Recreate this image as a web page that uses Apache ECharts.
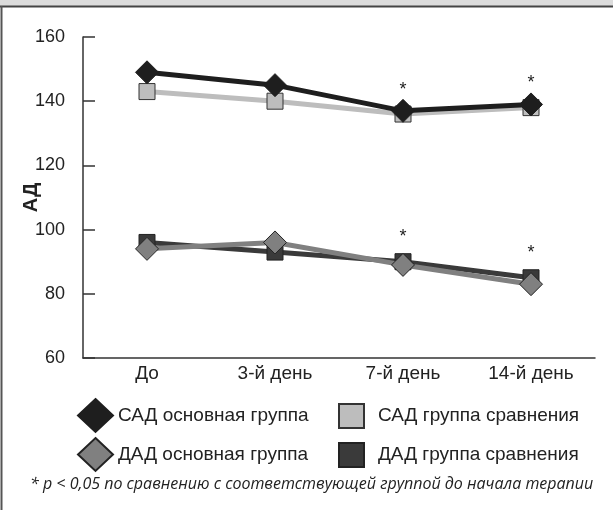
<!DOCTYPE html>
<html><head><meta charset="utf-8">
<script src="https://cdn.jsdelivr.net/npm/echarts@6/dist/echarts.min.js"></script>
<style>html,body{margin:0;padding:0;background:#fff}#c{width:613px;height:510px}</style>
</head><body><div id="c"></div>
<script>
const categories = ['До', '3-й день', '7-й день', '14-й день'];
const sadMain = [149, 145, 137, 139];
const sadComp = [143, 140, 136, 138];
const dadMain = [94, 96, 89, 83];
const dadComp = [96, 93, 90, 85];
const significant = [false, false, true, true];
const yTicks = [60, 80, 100, 120, 140, 160];
const seriesNames = ['САД основная группа', 'САД группа сравнения', 'ДАД основная группа', 'ДАД группа сравнения'];
const footnote = '* p < 0,05 по сравнению с соответствующей группой до начала терапии';

const FONT = '"Liberation Sans", Arial, sans-serif';
const chart = echarts.init(document.getElementById('c'), null, {renderer: 'canvas'});

function starLabel(vals, dist) {
  return vals.map((v, i) => significant[i] ? {
    value: v,
    label: {show: true, formatter: '*', position: 'top', distance: dist, color: '#222', fontSize: 18, fontFamily: FONT}
  } : v);
}

const legendBase = {
  textStyle: {fontFamily: FONT, fontSize: 19, color: '#222'},
  itemGap: 0, selectedMode: false, padding: 0
};
const legendRight = {
  textStyle: {fontFamily: FONT, fontSize: 19, color: '#222', padding: [0, 0, 0, 9]},
  itemGap: 0, selectedMode: false, padding: 0
};

chart.setOption({
  animation: false,
  grid: {left: 83, right: 18, top: 37, bottom: 152, containLabel: false, outerBoundsMode: 'none'},
  xAxis: {
    type: 'category', data: categories, boundaryGap: true,
    axisLine: {lineStyle: {color: '#333', width: 1.5}},
    axisTick: {inside: true, length: 7, lineStyle: {color: '#333', width: 1.5}},
    axisLabel: {fontFamily: FONT, fontSize: 19, color: '#222', margin: 6}
  },
  yAxis: {
    type: 'value', min: yTicks[0], max: yTicks[yTicks.length - 1], interval: 20,
    name: 'АД', nameLocation: 'middle', nameGap: 42, nameRotate: 90, nameMoveOverlap: false,
    nameTextStyle: {fontFamily: FONT, fontSize: 20, fontWeight: 'bold', color: '#222'},
    axisLine: {show: true, lineStyle: {color: '#333', width: 1.5}},
    axisTick: {show: true, inside: true, length: 12, lineStyle: {color: '#333', width: 1.5}},
    splitLine: {show: false},
    axisLabel: {fontFamily: FONT, fontSize: 18, color: '#222', margin: 18}
  },
  legend: [
    Object.assign({}, legendBase, {data: [{name: seriesNames[0], icon: 'diamond'}], left: 77, top: 398, itemWidth: 35, itemHeight: 33}),
    Object.assign({}, legendRight, {data: [{name: seriesNames[1], icon: 'rect'}], left: 338, top: 403, itemWidth: 25, itemHeight: 24}),
    Object.assign({}, legendBase, {data: [{name: seriesNames[2], icon: 'diamond'}], left: 77, top: 437, itemWidth: 35, itemHeight: 33}),
    Object.assign({}, legendRight, {data: [{name: seriesNames[3], icon: 'rect'}], left: 338, top: 442, itemWidth: 25, itemHeight: 24})
  ],
  graphic: [
    {type: 'rect', shape: {x: 0, y: 0, width: 613, height: 6}, style: {fill: '#dcdcdc'}, z: 10},
    {type: 'line', shape: {x1: 0, y1: 6.5, x2: 613, y2: 6.5}, style: {stroke: '#444', lineWidth: 2}, z: 10},
    {type: 'line', shape: {x1: 1.5, y1: 6, x2: 1.5, y2: 510}, style: {stroke: '#555', lineWidth: 2}, z: 10},
    {type: 'text', left: 30, top: 476, style: {text: footnote, font: 'italic 16px "Open Sans", sans-serif', fill: '#222'}, z: 10}
  ],
  series: [
    {
      name: seriesNames[1], type: 'line', data: sadComp, z: 2,
      symbol: 'rect', symbolSize: 16,
      lineStyle: {color: '#bdbdbd', width: 5},
      itemStyle: {color: '#bdbdbd', borderColor: '#333', borderWidth: 1}
    },
    {
      name: seriesNames[3], type: 'line', data: starLabel(dadComp, 7), z: 3,
      symbol: 'rect', symbolSize: 16,
      lineStyle: {color: '#3a3a3a', width: 5},
      itemStyle: {color: '#3a3a3a', borderColor: '#222', borderWidth: 1}
    },
    {
      name: seriesNames[2], type: 'line', data: dadMain, z: 4,
      symbol: 'diamond', symbolSize: 23,
      lineStyle: {color: '#808080', width: 5},
      itemStyle: {color: '#808080', borderColor: '#222', borderWidth: 1}
    },
    {
      name: seriesNames[0], type: 'line', data: starLabel(sadMain, 0), z: 5,
      symbol: 'diamond', symbolSize: 23,
      lineStyle: {color: '#1e1e1e', width: 5},
      itemStyle: {color: '#1e1e1e', borderColor: '#1e1e1e', borderWidth: 1}
    }
  ]
});
</script></body></html>
